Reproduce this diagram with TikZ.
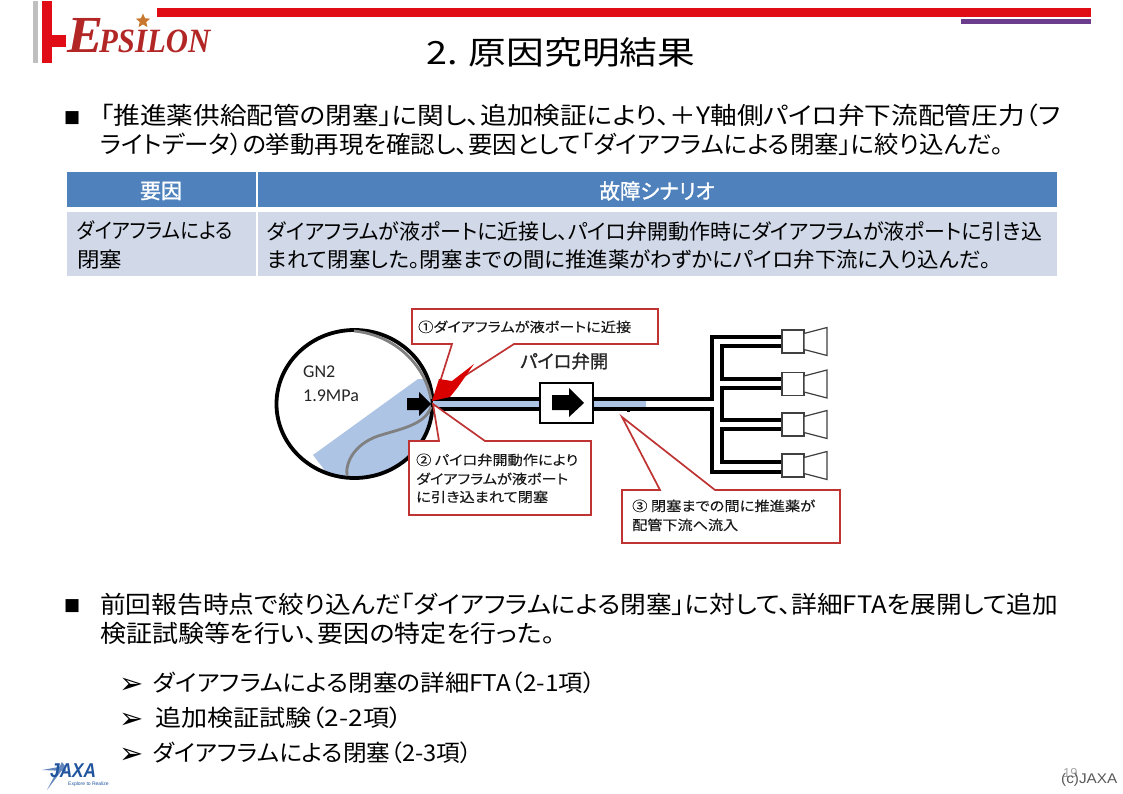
\documentclass[tikz,border=0pt]{standalone}
\usepackage{fontspec}
\usepackage{graphicx}
\usepackage{tikz}
\usetikzlibrary{shapes.geometric}
\setmainfont{Noto Sans CJK JP}[RawFeature=+palt]
\newfontfamily\medfont{Noto Sans CJK JP}[RawFeature=+palt, FakeBold=1.2]
\newfontfamily\lightmed{Noto Sans CJK JP}[RawFeature=+palt, FakeBold=0.15]
\newfontfamily\logofont{Liberation Serif}
\newfontfamily\jaxafont{Liberation Sans}
\newfontfamily\arrowfont{DejaVu Sans}
\newfontfamily\tankfont{Carlito}
\definecolor{mred}{rgb}{0.88, 0.05, 0.09}
\definecolor{mdark}{rgb}{0.70, 0.15, 0.15}
\definecolor{mpurple}{rgb}{0.42, 0.24, 0.55}
\definecolor{mgold}{rgb}{0.78, 0.47, 0.18}
\definecolor{mhead}{rgb}{0.31, 0.51, 0.74}
\definecolor{mrow}{rgb}{0.82, 0.85, 0.91}
\definecolor{mtank}{rgb}{0.68, 0.77, 0.90}
\definecolor{mline}{rgb}{0.75, 0.20, 0.20}
\definecolor{mjaxa}{rgb}{0.13, 0.33, 0.62}
\newcommand{\fitline}[2]{\resizebox{#1pt}{\height}{#2}}
\tikzset{
  txt/.style={anchor=base west, inner sep=0pt, font=\fontsize{24}{24}\selectfont},
  rowtxt/.style={txt, font=\fontsize{21}{21}\selectfont},
  subtxt/.style={txt, font=\fontsize{23}{23}\selectfont},
  calltxt/.style={txt, text=black!90, font=\lightmed\fontsize{13.5}{14}\selectfont},
  callout/.style={draw=mline, line width=1.7pt, fill=white, line join=miter},
  pipe/.style={draw=black, line width=3.5pt}
}

\begin{document}
\begin{tikzpicture}[x=1pt, y=-1pt]
    \useasboundingbox (0, 0) rectangle (1123, 794);
    \fill [white] (0, 0) rectangle (1123, 794);

    % header
    \fill [black!25] (33, 1) rectangle (38, 63);
    \fill [mred] (42, 1) rectangle (52, 63);
    \fill [mred] (52, 35) rectangle (66, 47);
    \fill [mred] (157, 8) rectangle (1091, 17);
    \fill [mpurple] (961, 19) rectangle (1091, 24);
    \node [txt, text=mdark, font=\logofont\bfseries\itshape\fontsize{52}{52}\selectfont] (logoe) at (67, 53) {\fitline{36}{E}};
    \node [txt, text=mdark, font=\logofont\bfseries\itshape\fontsize{34}{34}\selectfont] (logorest) at (99, 53) {\fitline{111}{PSILON}};
    \node [star, star points=5, star point ratio=2.2, fill=mgold, inner sep=0pt, minimum size=15pt] (logostar) at (143, 21) {};
    \node [txt, font=\fontsize{32}{32}\selectfont] (title) at (426, 65) {\fitline{269}{2. 原因究明結果}};

    % first paragraph
    \node [txt, font=\arrowfont\fontsize{17}{17}\selectfont] (bulleta) at (64, 123) {■};
    \node [txt] (paraa) at (100, 125) {\fitline{960}{「推進薬供給配管の閉塞」に関し、追加検証により、＋Y軸側パイロ弁下流配管圧力（フ}};
    \node [txt] (parab) at (100, 154) {\fitline{903}{ライトデータ）の挙動再現を確認し、要因として「ダイアフラムによる閉塞」に絞り込んだ。}};

    % table
    \fill [mhead] (67, 172) rectangle (256, 207);
    \fill [mhead] (258, 172) rectangle (1057, 207);
    \fill [mrow] (67, 212) rectangle (256, 276);
    \fill [mrow] (258, 212) rectangle (1057, 276);
    \node [text=white, font=\medfont\fontsize{21}{21}\selectfont] (heada) at (161, 191) {要因};
    \node [text=white, font=\medfont\fontsize{21}{21}\selectfont] (headb) at (657, 191) {\fitline{115}{故障シナリオ}};
    \node [rowtxt] (cella) at (77, 239) {\fitline{156}{ダイアフラムによる}};
    \node [rowtxt] (cellb) at (77, 267) {\fitline{45}{閉塞}};
    \node [rowtxt] (cellc) at (267, 239) {\fitline{775}{ダイアフラムが液ポートに近接し、パイロ弁開動作時にダイアフラムが液ポートに引き込}};
    \node [rowtxt] (celld) at (267, 267) {\fitline{724}{まれて閉塞した。閉塞までの間に推進薬がわずかにパイロ弁下流に入り込んだ。}};

    % tank
    \begin{scope}
      \clip (354.5, 404) ellipse [x radius=78, y radius=74];
      \fill [mtank] (418, 379) -- (313, 455) -- (340, 490) -- (440, 490) -- (440, 379) -- cycle;
    \end{scope}
    \draw [black, line width=3.8pt] (354.5, 404) ellipse [x radius=78, y radius=74];
    \draw [black!50, line width=2.8pt] (354, 331) .. controls (395, 335) and (425, 365) .. (431, 399);
    \draw [black!50, line width=2.8pt] (431, 407) .. controls (425, 425) and (400, 429) .. (378, 436) .. controls (355, 444) and (345, 462) .. (347, 476);
    \fill [black] (407, 398) -- (419, 398) -- (419, 392) -- (431, 404) -- (419, 416) -- (419, 410) -- (407, 410) -- cycle;
    \node [txt, text=black!85, font=\tankfont\fontsize{18}{18}\selectfont] (gas) at (303, 377) {GN2};
    \node [txt, text=black!85, font=\tankfont\fontsize{18}{18}\selectfont] (press) at (303, 401) {1.9MPa};

    % pipes
    \fill [mtank] (433, 400) rectangle (646, 408);
    \draw [pipe] (433, 399) -- (712, 399) -- (712, 337) -- (783, 337);
    \draw [pipe] (433, 409) -- (712, 409) -- (712, 472) -- (783, 472);
    \draw [pipe] (783, 346) -- (722, 346) -- (722, 379) -- (783, 379);
    \draw [pipe] (783, 388) -- (722, 388) -- (722, 420) -- (783, 420);
    \draw [pipe] (783, 429) -- (722, 429) -- (722, 462) -- (783, 462);
    \fill [black] (627, 410) rectangle (630, 412);
    \foreach \y in {341.5, 384, 424.5, 465.5} {
      \draw [black!75, fill=white, line width=1.2pt] (782, \y-11.5) rectangle (804, \y+11.5);
      \draw [black!75, fill=white, line width=1.2pt] (804, \y-8) -- (827, \y-14) -- (827, \y+14) -- (804, \y+8) -- cycle;
    };
    \draw [black, fill=white, line width=1.2pt] (540, 383) rectangle (593, 423);
    \fill [black] (552, 395) -- (569, 395) -- (569, 388) -- (584, 403) -- (569, 417) -- (569, 410) -- (552, 410) -- cycle;
    \node [txt, text=black!85, font=\medfont\fontsize{21}{21}\selectfont] (valve) at (520, 368) {\resizebox{88pt}{!}{パイロ弁開}};

    % callouts
    \draw [callout] (412, 309) -- (658, 309) -- (658, 344) -- (514, 344) -- (452, 384) -- (440, 382) -- (452, 344) -- (412, 344) -- cycle;
    \fill [red!85!black] (474, 364) -- (452, 381) -- (439, 379) -- (432, 401) -- (450, 397) -- (458, 387) -- cycle;
    \draw [callout] (409, 441) -- (439, 441) -- (433, 404) -- (485, 441) -- (591, 441) -- (591, 515) -- (409, 515) -- cycle;
    \draw [callout] (622, 490) -- (660, 490) -- (622, 417) -- (715, 490) -- (840, 490) -- (840, 543) -- (622, 543) -- cycle;
    \node [calltxt] (calla) at (418, 332) {\fitline{213}{①ダイアフラムが液ポートに近接}};
    \node [calltxt] (callb) at (416, 465) {\fitline{162}{② パイロ弁開動作により}};
    \node [calltxt] (callc) at (416, 484) {\fitline{152}{ダイアフラムが液ポート}};
    \node [calltxt] (calld) at (416, 502) {\fitline{132}{に引き込まれて閉塞}};
    \node [calltxt] (calle) at (632, 511) {\fitline{183}{③ 閉塞までの間に推進薬が}};
    \node [calltxt] (callf) at (632, 530) {\fitline{106}{配管下流へ流入}};

    % second paragraph
    \node [txt, font=\arrowfont\fontsize{17}{17}\selectfont] (bulletb) at (64, 610) {■};
    \node [txt] (parac) at (100, 613) {\fitline{958}{前回報告時点で絞り込んだ「ダイアフラムによる閉塞」に対して、詳細FTAを展開して追加}};
    \node [txt] (parad) at (100, 642) {\fitline{455}{検証試験等を行い、要因の特定を行った。}};
    \foreach \y in {693, 728, 763} {
      \node [txt, font=\arrowfont\fontsize{29}{29}\selectfont] at (119, \y) {➢};
    };
    \node [subtxt] (lista) at (153, 691) {\fitline{442}{ダイアフラムによる閉塞の詳細FTA（2-1項）}};
    \node [subtxt] (listb) at (155, 726) {\fitline{247}{追加検証試験（2-2項）}};
    \node [subtxt] (listc) at (153, 761) {\fitline{319}{ダイアフラムによる閉塞（2-3項）}};

    % footer
    \fill [mjaxa!70] (42, 770) -- (64, 766) -- (66, 771) -- cycle;
    \fill [mjaxa!70] (47, 790) -- (62, 762) -- (65, 766) -- cycle;
    \node [txt, text=mjaxa, font=\jaxafont\bfseries\itshape\fontsize{20}{20}\selectfont] (jaxa) at (50, 777) {\fitline{46}{JAXA}};
    \node [txt, text=mjaxa, font=\jaxafont\fontsize{5}{5}\selectfont] (motto) at (68, 785) {Explore to Realize};
    \node [txt, text=black!35, font=\jaxafont\fontsize{13}{13}\selectfont] (pagenum) at (1063, 777) {19};
    \node [txt, text=black!65, font=\jaxafont\fontsize{14}{14}\selectfont] (copyr) at (1061, 783) {\fitline{56}{(c)JAXA}};
  \end{tikzpicture}
\end{document}
